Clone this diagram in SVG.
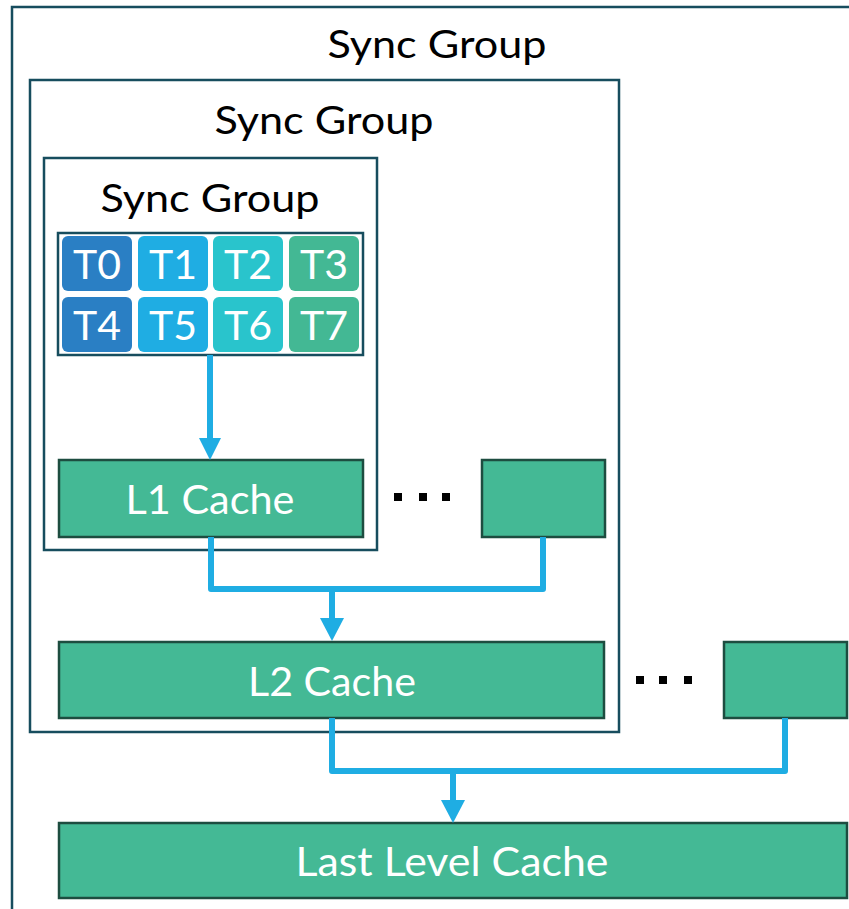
<svg xmlns="http://www.w3.org/2000/svg" width="849" height="909" viewBox="0 0 849 909">
<style>
.grp{fill:#fff;stroke:#174d5e;stroke-width:2.5}
.lbl{font-family:Lato,"Open Sans","Liberation Sans",sans-serif;font-size:38px;fill:#000;text-anchor:middle}
.cache{fill:#44b995;stroke:#1d4d40;stroke-width:2.5}
.ct{font-family:Lato,"Open Sans","Liberation Sans",sans-serif;font-size:41px;fill:#fff;text-anchor:middle}
.th{font-family:Lato,"Open Sans","Liberation Sans",sans-serif;font-size:41px;fill:#fff;text-anchor:middle}
.conn{fill:none;stroke:#1fade3;stroke-width:6;stroke-linejoin:round}
.dot{fill:#000}
</style>
<g id="sync-outer"><rect class="grp" x="12" y="7" width="850" height="920"/>
<text class="lbl" x="437" y="58" textLength="219" lengthAdjust="spacingAndGlyphs">Sync Group</text></g>
<g id="sync-middle"><rect class="grp" x="30" y="80" width="589" height="652"/>
<text class="lbl" x="324" y="134" textLength="219" lengthAdjust="spacingAndGlyphs">Sync Group</text></g>
<g id="sync-inner"><rect class="grp" x="44" y="158" width="333" height="392"/>
<text class="lbl" x="210" y="212" textLength="219" lengthAdjust="spacingAndGlyphs">Sync Group</text></g>
<g id="threads">
<rect x="58" y="233" width="305" height="122" fill="#fff" stroke="#174d5e" stroke-width="2.5"/>
<rect x="62" y="236" width="70" height="55" rx="6" fill="#2a7fc4"/>
<rect x="138" y="236" width="70" height="55" rx="6" fill="#1fade3"/>
<rect x="213" y="236" width="70" height="55" rx="6" fill="#29c4cc"/>
<rect x="289" y="236" width="70" height="55" rx="6" fill="#43b894"/>
<rect x="62" y="297" width="70" height="55" rx="6" fill="#2a7fc4"/>
<rect x="138" y="297" width="70" height="55" rx="6" fill="#1fade3"/>
<rect x="213" y="297" width="70" height="55" rx="6" fill="#29c4cc"/>
<rect x="289" y="297" width="70" height="55" rx="6" fill="#43b894"/>
<text class="th" x="97" y="279">T0</text>
<text class="th" x="173" y="279">T1</text>
<text class="th" x="248" y="279">T2</text>
<text class="th" x="324" y="279">T3</text>
<text class="th" x="97" y="340">T4</text>
<text class="th" x="173" y="340">T5</text>
<text class="th" x="248" y="340">T6</text>
<text class="th" x="324" y="340">T7</text>
</g>
<g id="l1"><rect class="cache" x="59" y="460" width="304" height="77"/>
<text class="ct" x="210" y="514" textLength="169" lengthAdjust="spacingAndGlyphs">L1 Cache</text></g>
<g id="l1-other"><rect class="cache" x="482" y="460" width="123" height="77"/></g>
<g id="dots1"><rect class="dot" x="394" y="493" width="8" height="8"/><rect class="dot" x="419" y="493" width="8" height="8"/><rect class="dot" x="442" y="493" width="8" height="8"/></g>
<g id="l2"><rect class="cache" x="59" y="642" width="545" height="76"/>
<text class="ct" x="332" y="696" textLength="168" lengthAdjust="spacingAndGlyphs">L2 Cache</text></g>
<g id="l2-other"><rect class="cache" x="724" y="642" width="123" height="76"/></g>
<g id="dots2"><rect class="dot" x="636" y="676" width="8" height="8"/><rect class="dot" x="659" y="676" width="8" height="8"/><rect class="dot" x="684" y="676" width="8" height="8"/></g>
<g id="llc"><rect class="cache" x="59" y="823" width="788" height="75"/>
<text class="ct" x="452" y="876" textLength="313" lengthAdjust="spacingAndGlyphs">Last Level Cache</text></g>
<g id="connectors">
<path class="conn" d="M210,355 V440"/>
<path d="M199,438 L221,438 L210,460 Z" fill="#1fade3"/>
<path class="conn" d="M211,537 V589 H543 V537"/>
<path class="conn" d="M332,589 V620"/>
<path d="M320,618 L344,618 L332,641 Z" fill="#1fade3"/>
<path class="conn" d="M332,718 V771 H785 V718"/>
<path class="conn" d="M453,771 V802"/>
<path d="M441,800 L465,800 L453,823 Z" fill="#1fade3"/>
</g>
</svg>
